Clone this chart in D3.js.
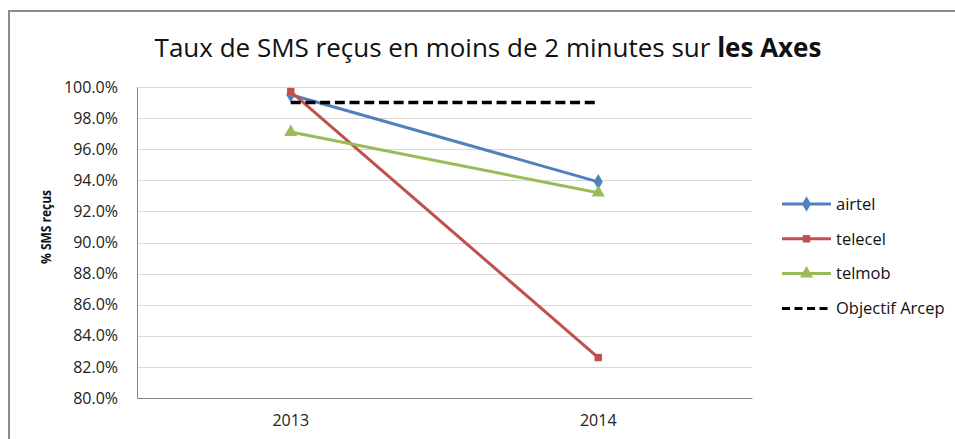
<!DOCTYPE html>
<html>
<head>
<meta charset="utf-8">
<script src="https://cdn.jsdelivr.net/npm/d3@7"></script>
<style>
  body { margin: 0; background: #fff; }
  svg { display: block; font-family: "Open Sans", "Noto Sans", sans-serif; }
</style>
</head>
<body>
<svg id="chart" width="955" height="439"></svg>
<script>
// data
var years = ["2013", "2014"];
var airtel = [0.995, 0.939];
var telecel = [0.997, 0.826];
var telmob = [0.971, 0.932];
var objectif = [0.99, 0.99];
var yTicks = [0.80, 0.82, 0.84, 0.86, 0.88, 0.90, 0.92, 0.94, 0.96, 0.98, 1.00];

var series = [
  {name: "airtel", values: airtel, color: "#4f81bd", marker: "diamond"},
  {name: "telecel", values: telecel, color: "#c0504d", marker: "square"},
  {name: "telmob", values: telmob, color: "#9bbb59", marker: "triangle"},
  {name: "Objectif Arcep", values: objectif, color: "#000", dash: true}
];

var svg = d3.select("#chart");
var m = {left: 137, right: 752, top: 87, bottom: 398};

// chart frame
svg.append("rect").attr("x", 9).attr("y", 11).attr("width", 960).attr("height", 440)
  .attr("fill", "#fff").attr("stroke", "#8c8c8c").attr("stroke-width", 2);

var x = d3.scaleBand().domain(years).range([m.left, m.right]);
var y = d3.scaleLinear().domain([0.8, 1.0]).range([m.bottom, m.top]);
var cx = function(i) { return x(years[i]) + x.bandwidth() / 2; };

// gridlines
svg.append("g").selectAll("line").data(yTicks.slice(1)).enter().append("line")
  .attr("x1", m.left).attr("x2", m.right)
  .attr("y1", function(d) { return Math.round(y(d)) + 0.5; })
  .attr("y2", function(d) { return Math.round(y(d)) + 0.5; })
  .attr("stroke", "#d9d9d9").attr("stroke-width", 1);

// axes
var yAxis = d3.axisLeft(y).tickValues(yTicks).tickFormat(d3.format(".1%")).tickSize(0).tickPadding(19);
svg.append("g").attr("transform", "translate(" + m.left + ",0)").call(yAxis)
  .call(function(g) {
    g.select(".domain").attr("stroke", "#868686");
    g.selectAll("text").attr("font-size", 16).attr("fill", "#222")
      .attr("font-family", "Open Sans");
  });

var xAxis = d3.axisBottom(x).tickSize(0).tickPadding(17);
svg.append("g").attr("transform", "translate(0," + m.bottom + ")").call(xAxis)
  .call(function(g) {
    g.select(".domain").attr("stroke", "#868686");
    g.selectAll("text").attr("font-size", 16).attr("fill", "#222")
      .attr("font-family", "Open Sans");
  });

// title
var title = svg.append("text").attr("x", 488).attr("y", 57)
  .attr("text-anchor", "middle").attr("font-size", 26).attr("fill", "#111")
  .attr("font-family", "Open Sans");
title.append("tspan").text("Taux de SMS reçus en moins de 2 minutes sur ");
title.append("tspan").attr("font-weight", "bold").text("les Axes");

// y axis title
svg.append("text").attr("transform", "translate(51,227) rotate(-90)")
  .attr("text-anchor", "middle").attr("font-size", 15).attr("font-weight", "bold")
  .attr("textLength", 74).attr("lengthAdjust", "spacingAndGlyphs")
  .attr("fill", "#111").text("% SMS reçus");

var line = d3.line().x(function(d, i) { return cx(i); }).y(function(d) { return y(d); });

var symbols = {
  diamond: d3.symbol().type(d3.symbolDiamond).size(70),
  square: d3.symbol().type(d3.symbolSquare).size(55),
  triangle: d3.symbol().type(d3.symbolTriangle).size(75)
};

series.forEach(function(s) {
  svg.append("path").datum(s.values).attr("d", line)
    .attr("fill", "none").attr("stroke", s.color)
    .attr("stroke-width", s.dash ? 3.5 : 3)
    .attr("stroke-dasharray", s.dash ? "10,4.7" : null);
  if (s.marker) {
    svg.append("g").selectAll("path").data(s.values).enter().append("path")
      .attr("transform", function(d, i) { return "translate(" + cx(i) + "," + y(d) + ")"; })
      .attr("d", symbols[s.marker]).attr("fill", s.color);
  }
});

// legend
var legend = svg.append("g").attr("transform", "translate(782,204)");
var items = legend.selectAll("g").data(series).enter().append("g")
  .attr("transform", function(d, i) { return "translate(0," + (i * 34.8) + ")"; });
items.append("line").attr("x1", 0).attr("x2", 49)
  .attr("stroke", function(d) { return d.color; }).attr("stroke-width", 3)
  .attr("stroke-dasharray", function(d) { return d.dash ? "8,4.5" : null; });
items.filter(function(d) { return d.marker; }).append("path")
  .attr("transform", "translate(24.5,0)")
  .attr("d", function(d) { return symbols[d.marker](); })
  .attr("fill", function(d) { return d.color; });
items.append("text").attr("x", 54).attr("dy", "0.35em").attr("font-size", 16.5)
  .attr("fill", "#111").text(function(d) { return d.name; });
</script>
</body>
</html>
